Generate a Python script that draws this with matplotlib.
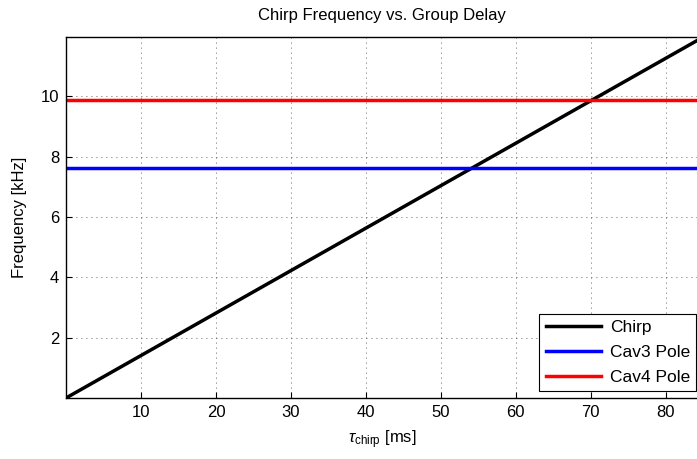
import matplotlib
matplotlib.use("Agg")
import matplotlib.pyplot as plt

plt.rcParams['font.family'] = ['Liberation Sans', 'DejaVu Sans']
plt.rcParams['mathtext.fontset'] = 'custom'
plt.rcParams['mathtext.rm'] = 'Liberation Sans'
plt.rcParams['mathtext.it'] = 'Liberation Sans:italic'

chirp_delay_ms = [0.0, 84.3]
chirp_freq_khz = [0.0, 11.87]
cav3_pole_khz = 7.64
cav4_pole_khz = 9.88
xticks = [10, 20, 30, 40, 50, 60, 70, 80]
yticks = [2, 4, 6, 8, 10]

fig = plt.figure(figsize=(6.97, 4.59), dpi=100)
ax = fig.add_axes([66/697, 61/459, 632/697, 361/459])

ax.plot(chirp_delay_ms, chirp_freq_khz, color='black', lw=2.5, label='Chirp')
ax.axhline(cav3_pole_khz, color='#0000ff', lw=2.5, label='Cav3 Pole')
ax.axhline(cav4_pole_khz, color='#ff0000', lw=2.5, label='Cav4 Pole')

ax.set_xlim(0, 84.3)
ax.set_ylim(0, 11.97)
ax.set_xticks(xticks)
ax.set_yticks(yticks)
ax.tick_params(direction='in', labelsize=12, length=4, width=0.8, pad=5)
ax.grid(True, linestyle=(0, (1, 5)), color='#303030', linewidth=0.6)
for s in ax.spines.values():
    s.set_linewidth(1.0)
ax.spines['right'].set_visible(False)

ax.set_title('Chirp Frequency vs. Group Delay', fontsize=12, pad=12)
ax.set_xlabel(r'$\tau_{\mathrm{chirp}}$ [ms]', fontsize=12, labelpad=6)
ax.set_ylabel('Frequency [kHz]', fontsize=12, labelpad=10)

leg = ax.legend(loc='lower right', bbox_to_anchor=(0.997, 0.02), fontsize=12.5,
                fancybox=False, framealpha=1, edgecolor='black', borderaxespad=0,
                handlelength=3.2, labelspacing=0.55, borderpad=0.35, handletextpad=0.5)
leg.get_frame().set_linewidth(0.8)

fig.savefig('out.png', dpi=100)
